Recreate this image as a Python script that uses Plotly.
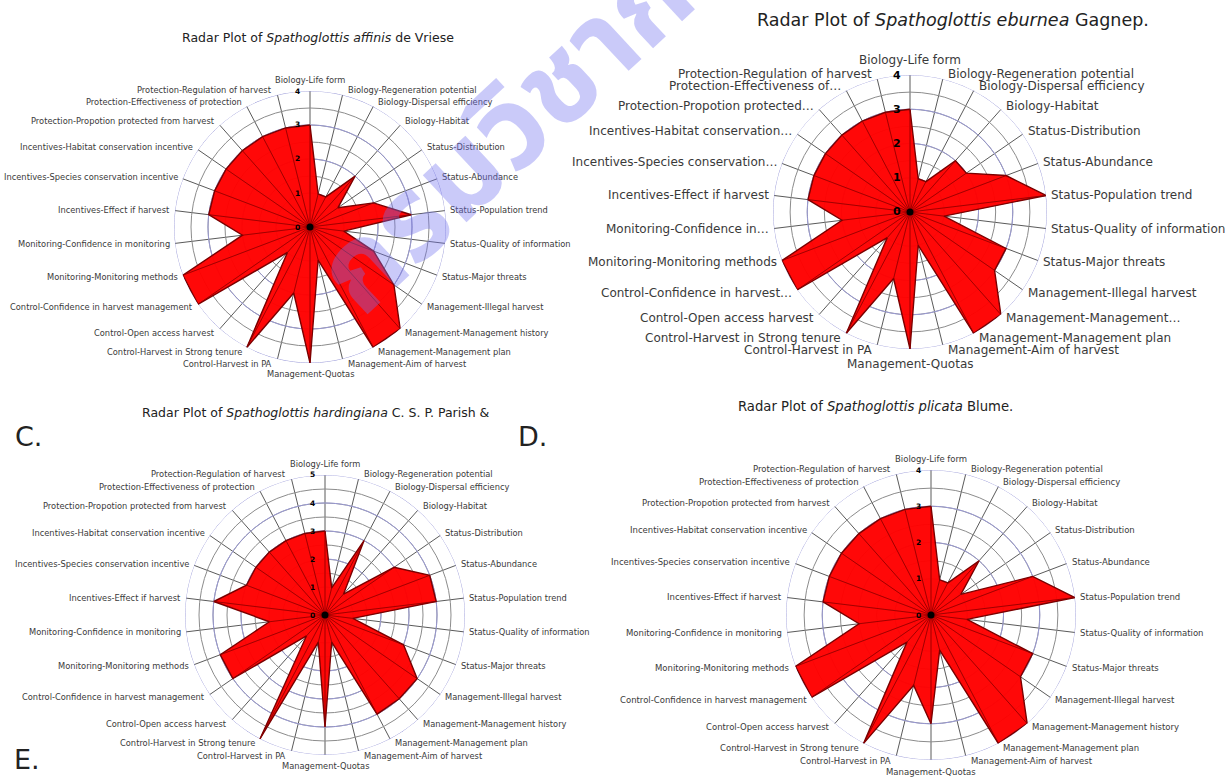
import math
import numpy as np
import plotly.graph_objects as go

W, H = 1228, 780

# Assessment criteria, clockwise from the top
categories = [
    "Biology-Life form", "Biology-Regeneration potential", "Biology-Dispersal efficiency",
    "Biology-Habitat", "Status-Distribution", "Status-Abundance", "Status-Population trend",
    "Status-Quality of information", "Status-Major threats", "Management-Illegal harvest",
    "Management-Management history", "Management-Management plan", "Management-Aim of harvest",
    "Management-Quotas", "Control-Harvest in PA", "Control-Harvest in Strong tenure",
    "Control-Open access harvest", "Control-Confidence in harvest management",
    "Monitoring-Monitoring methods", "Monitoring-Confidence in monitoring",
    "Incentives-Effect if harvest", "Incentives-Species conservation incentive",
    "Incentives-Habitat conservation incentive", "Protection-Propotion protected from harvest",
    "Protection-Effectiveness of protection", "Protection-Regulation of harvest",
]
# shortened labels used on the eburnea panel
categories_short = [
    "Biology-Life form", "Biology-Regeneration potential", "Biology-Dispersal efficiency",
    "Biology-Habitat", "Status-Distribution", "Status-Abundance", "Status-Population trend",
    "Status-Quality of information", "Status-Major threats", "Management-Illegal harvest",
    "Management-Management…", "Management-Management plan", "Management-Aim of harvest",
    "Management-Quotas", "Control-Harvest in PA", "Control-Harvest in Strong tenure",
    "Control-Open access harvest", "Control-Confidence in harvest…",
    "Monitoring-Monitoring methods", "Monitoring-Confidence in…",
    "Incentives-Effect if harvest", "Incentives-Species conservation…",
    "Incentives-Habitat conservation…", "Protection-Propotion protected…",
    "Protection-Effectiveness of…", "Protection-Regulation of harvest",
]

affinis = [3, 1, 1, 2, 1, 2, 3, 1, 2, 3, 4, 4, 1, 4, 2, 4, 1, 4, 4, 2, 3, 3, 3, 3, 3, 3]
eburnea = [3, 1, 1, 2, 2, 3, 4, 1, 3, 3, 4, 4, 1, 4, 2, 4, 1, 4, 4, 2, 3, 3, 3, 3, 3, 3]
hardingiana = [3, 1, 3, 1, 3, 4, 4, 1, 3, 4, 4, 4, 1, 4, 1, 5, 1, 4, 4, 2, 4, 3, 3, 3, 3, 3]
plicata = [3, 1, 1, 2, 1, 3, 4, 1, 3, 3, 4, 4, 1, 3, 2, 4, 1, 4, 4, 2, 3, 3, 3, 3, 3, 3]

titles = [
    "Radar Plot of <i>Spathoglottis affinis</i> de Vriese",
    "Radar Plot of <i>Spathoglottis eburnea</i> Gagnep.",
    "Radar Plot of <i>Spathoglottis hardingiana</i> C. S. P. Parish &",
    "Radar Plot of <i>Spathoglottis plicata</i> Blume.",
]

FONT = "DejaVu Sans, Verdana, sans-serif"
n = len(categories)
angles = [i * 360.0 / n for i in range(n)]

panels = [
    # polar id, labels, values, max, centre x, centre y, radius, label size, tick size
    ("polar", categories, affinis, 4, 310, 227, 136, 8.3, 7.5),
    ("polar2", categories_short, eburnea, 4, 910, 212, 137, 12, 11),
    ("polar3", categories, hardingiana, 5, 325, 615, 140, 8.3, 7.5),
    ("polar4", categories, plicata, 4, 931, 615, 145, 8.5, 7.5),
]

fig = go.Figure()
layout_polars = {}
annotations = []


def paper(px, py):
    return px / W, 1 - py / H


for pid, labels, vals, rmax, cx, cy, rad, lsize, tsize in panels:
    # integer reference circles
    circ_t = np.linspace(0, 360, 361)
    for k in range(1, rmax + 1):
        fig.add_trace(go.Scatterpolar(
            r=[k] * len(circ_t), theta=circ_t, mode="lines",
            line=dict(color="#9a9ad8", width=1), hoverinfo="skip",
            showlegend=False, subplot=pid))
    # filled profile
    fig.add_trace(go.Scatterpolar(
        r=vals + [vals[0]], theta=angles + [angles[0]], mode="lines",
        fill="toself", fillcolor="rgba(255,0,0,0.97)",
        line=dict(color="#7a0000", width=1.4), showlegend=False, subplot=pid))
    # spokes inside the profile
    sr, st = [], []
    for a, v in zip(angles, vals):
        sr += [0, v, None]
        st += [a, a, None]
    fig.add_trace(go.Scatterpolar(
        r=sr, theta=st, mode="lines", line=dict(color="#8a0000", width=0.8),
        hoverinfo="skip", showlegend=False, subplot=pid))
    # centre dot
    fig.add_trace(go.Scatterpolar(
        r=[0], theta=[0], mode="markers", marker=dict(color="black", size=7),
        hoverinfo="skip", showlegend=False, subplot=pid))

    layout_polars[pid] = dict(
        domain=dict(x=[(cx - rad) / W, (cx + rad) / W],
                    y=[(H - cy - rad) / H, (H - cy + rad) / H]),
        bgcolor="rgba(0,0,0,0)",
        radialaxis=dict(range=[0, rmax], dtick=0.5, showticklabels=False,
                        angle=90, showline=False, ticks="",
                        gridcolor="#8c8c8c", gridwidth=1),
        angularaxis=dict(type="linear", thetaunit="degrees",
                         tickmode="array", tickvals=angles, showticklabels=False,
                         direction="clockwise", rotation=90,
                         showline=False, ticks="", gridcolor="#5a5a5a", gridwidth=1),
    )

    # value scale beside the vertical spoke
    for k in range(rmax + 1):
        x, y = paper(cx - 13, cy - k * rad / rmax)
        annotations.append(dict(
            text="<b>%d</b>" % k, x=x, y=y, xref="paper", yref="paper",
            xanchor="center", yanchor="middle", showarrow=False,
            font=dict(family=FONT, size=tsize, color="black")))

    # criterion labels around the rim
    for a, lab in zip(angles, labels):
        s, c = math.sin(math.radians(a)), math.cos(math.radians(a))
        ex, ey = cx + rad * s, cy - rad * c
        if abs(s) < 0.05:
            xa = "center"
            px = ex
            py = ey - (lsize + 3) * (1 if c > 0 else -1)
        else:
            xa = "left" if s > 0 else "right"
            px = ex + (3 if s > 0 else -3)
            py = ey - c * 5
        x, y = paper(px, py)
        annotations.append(dict(
            text=lab, x=x, y=y, xref="paper", yref="paper", xanchor=xa, yanchor="middle",
            showarrow=False, font=dict(family=FONT, size=lsize, color="#3a3a3a")))

heads = [
    dict(text=titles[0], px=318, py=37, size=12.5),
    dict(text=titles[1], px=953, py=20, size=17.5),
    dict(text=titles[2], px=140, py=412, size=12.5, xanchor="left"),
    dict(text=titles[3], px=875, py=406, size=13.2),
    dict(text="C.", px=13, py=436, size=27, xanchor="left"),
    dict(text="D.", px=516, py=436, size=27, xanchor="left"),
    dict(text="E.", px=12, py=759, size=27, xanchor="left"),
]
for h in heads:
    x, y = paper(h["px"], h["py"])
    annotations.append(dict(
        text=h["text"], x=x, y=y, xref="paper", yref="paper",
        xanchor=h.get("xanchor", "center"), yanchor="middle", showarrow=False,
        font=dict(family=FONT, size=h["size"], color="#222222")))

# watermark
wx, wy = paper(668, -15)
annotations.append(dict(
    text="<b>กรมวิชาการเกษตร</b>", x=wx, y=wy, xref="paper", yref="paper",
    textangle=-43, showarrow=False, xanchor="center", yanchor="middle",
    font=dict(size=117, color="rgba(115,115,240,0.38)",
              family="Noto Sans Thai, DejaVu Sans, sans-serif")))

fig.update_layout(
    width=W, height=H, margin=dict(l=0, r=0, t=0, b=0),
    paper_bgcolor="white", plot_bgcolor="white",
    annotations=annotations, **layout_polars)

fig.write_html("out.html")
